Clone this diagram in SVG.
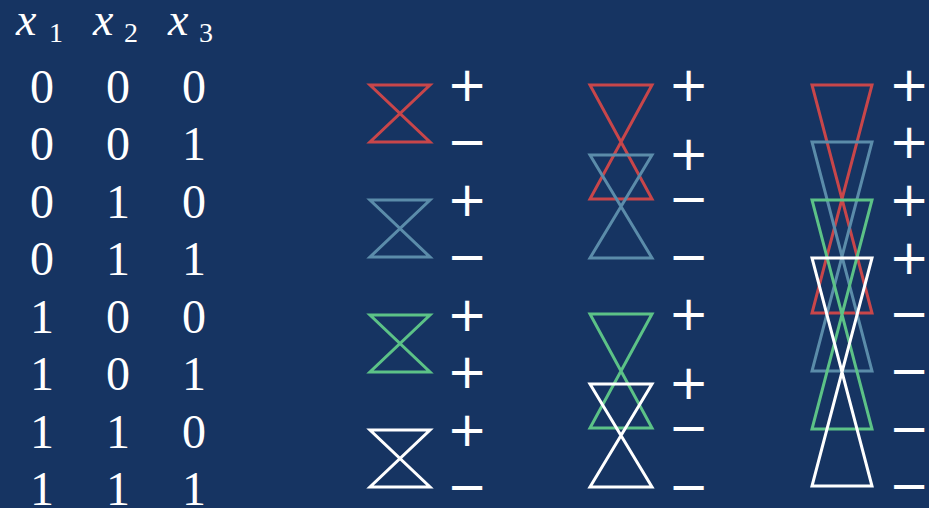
<svg xmlns="http://www.w3.org/2000/svg" width="929" height="508" viewBox="0 0 929 508">
<style>
.bg{fill:#163462}
.hg{fill:none;stroke-width:3;stroke-linejoin:miter}
.r{stroke:#c8464a}
.b{stroke:#5b8caa}
.g{stroke:#5cc287}
.w{stroke:#ffffff}
.num{font-size:48px;fill:#fff;text-anchor:middle}
.var{font-style:italic;font-size:46px;fill:#fff}
.sub{font-size:28px;fill:#fff}
.sg{font-size:48px;fill:#fff;text-anchor:middle}
</style>
<rect class="bg" x="0" y="0" width="929" height="508"/>
<g id="table" font-family="Liberation Serif, Times New Roman, serif">
<text class="var" x="16" y="35">x</text><text class="sub" x="49" y="42">1</text>
<text class="var" x="93" y="35">x</text><text class="sub" x="124" y="42">2</text>
<text class="var" x="168" y="35">x</text><text class="sub" x="199" y="42">3</text>
<g class="num">
<text x="42" y="102.5">0</text><text x="118" y="102.5">0</text><text x="194" y="102.5">0</text>
<text x="42" y="160">0</text><text x="118" y="160">0</text><text x="194" y="160">1</text>
<text x="42" y="217.5">0</text><text x="118" y="217.5">1</text><text x="194" y="217.5">0</text>
<text x="42" y="275">0</text><text x="118" y="275">1</text><text x="194" y="275">1</text>
<text x="42" y="332.5">1</text><text x="118" y="332.5">0</text><text x="194" y="332.5">0</text>
<text x="42" y="390">1</text><text x="118" y="390">0</text><text x="194" y="390">1</text>
<text x="42" y="447.5">1</text><text x="118" y="447.5">1</text><text x="194" y="447.5">0</text>
<text x="42" y="505">1</text><text x="118" y="505">1</text><text x="194" y="505">1</text>
</g>
</g>
<g id="col1">
<path class="hg r" d="M370,85 L430,85 L370,142 L430,142 Z"/>
<path class="hg b" d="M370,200 L430,200 L370,257 L430,257 Z"/>
<path class="hg g" d="M370,315 L430,315 L370,372 L430,372 Z"/>
<path class="hg w" d="M370,430 L430,430 L370,487 L430,487 Z"/>
<g class="sg" font-family="DejaVu Sans, sans-serif">
<text x="467" y="101">+</text><text x="467" y="158">−</text>
<text x="467" y="216">+</text><text x="467" y="273">−</text>
<text x="467" y="331">+</text><text x="467" y="388">+</text>
<text x="467" y="446">+</text><text x="467" y="503">−</text>
</g>
</g>
<g id="col2">
<path class="hg r" d="M590,85 L652,85 L590,199 L652,199 Z"/>
<path class="hg b" d="M590,155 L652,155 L590,258 L652,258 Z"/>
<path class="hg g" d="M590,314 L652,314 L590,428 L652,428 Z"/>
<path class="hg w" d="M590,384 L652,384 L590,487 L652,487 Z"/>
<g class="sg" font-family="DejaVu Sans, sans-serif">
<text x="688.5" y="101">+</text><text x="688.5" y="170">+</text>
<text x="688.5" y="215">−</text><text x="688.5" y="273">−</text>
<text x="688.5" y="330">+</text><text x="688.5" y="399">+</text>
<text x="688.5" y="444">−</text><text x="688.5" y="503">−</text>
</g>
</g>
<g id="col3">
<path class="hg r" d="M812,85 L872,85 L812,313 L872,313 Z"/>
<path class="hg b" d="M812,142 L872,142 L812,371 L872,371 Z"/>
<path class="hg g" d="M812,200 L872,200 L812,429 L872,429 Z"/>
<path class="hg w" d="M812,258 L872,258 L812,486 L872,486 Z"/>
<g class="sg" font-family="DejaVu Sans, sans-serif">
<text x="909" y="101">+</text><text x="909" y="158">+</text>
<text x="909" y="216">+</text><text x="909" y="274">+</text>
<text x="909" y="330">−</text><text x="909" y="387">−</text>
<text x="909" y="445">−</text><text x="909" y="502">−</text>
</g>
</g>
</svg>
